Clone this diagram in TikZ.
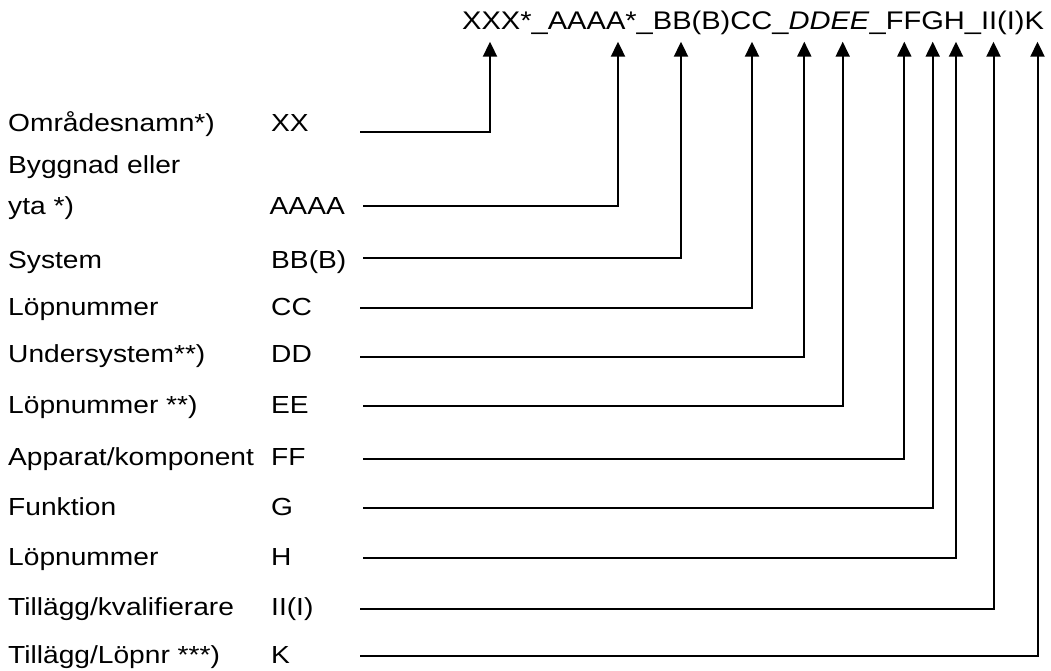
\documentclass[tikz,border=0pt]{standalone}
\usepackage{fontspec}
\setmainfont[FakeStretch=1.14]{Liberation Sans}
\usetikzlibrary{arrows.meta}
\begin{document}
\begin{tikzpicture}[x=1pt,y=-1pt,
  lbl/.style={anchor=base west, inner sep=0pt, font=\fontsize{24.7}{41}\selectfont},
  conn/.style={line width=2pt, -{Triangle[width=14pt,length=15pt]}},
]
\useasboundingbox (0,0) rectangle (1051,671);
\node[anchor=base west, inner sep=0pt, font=\fontsize{25.5}{30}\selectfont] (hdr) at (462,29.5)
  {XXX*\_AAAA*\_BB(B)CC\_\textit{DDEE}\_FFGH\_II(I)K};

% labels
\node[lbl] (l1) at (8,131.7) {Områdesnamn*)};
\node[lbl] (l2) at (8,214.5) {\begin{tabular}[b]{@{}l@{}}Byggnad eller\\yta *)\end{tabular}};
\node[lbl] (l3) at (8,268) {System};
\node[lbl] (l4) at (8,315) {Löpnummer};
\node[lbl] (l5) at (8,362) {Undersystem**)};
\node[lbl] (l6) at (8,413) {Löpnummer **)};
\node[lbl] (l7) at (8,465) {Apparat/komponent};
\node[lbl] (l8) at (8,515) {Funktion};
\node[lbl] (l9) at (8,565) {Löpnummer};
\node[lbl] (l10) at (8,615) {Tillägg/kvalifierare};
\node[lbl] (l11) at (8,663) {Tillägg/Löpnr ***)};

% codes
\node[lbl] (c1) at (271,131.7) {XX};
\node[lbl] (c2) at (269.5,214.5) {AAAA};
\node[lbl] (c3) at (271,268) {BB(B)};
\node[lbl] (c4) at (271,315) {CC};
\node[lbl] (c5) at (271,362) {DD};
\node[lbl] (c6) at (271,413) {EE};
\node[lbl] (c7) at (271,465) {FF};
\node[lbl] (c8) at (271,515) {G};
\node[lbl] (c9) at (271,565) {H};
\node[lbl] (c10) at (271,615) {II(I)};
\node[lbl] (c11) at (271,663) {K};

% connector starts and targets
\foreach \n/\ly/\sx/\tx in {1/132.3/360/490, 2/205.7/363/618, 3/258/363/681,
  4/308/360/752, 5/356.7/360/804.3, 6/406/363/842.7, 7/459/363/904.3,
  8/508/363/932.7, 9/558/363/956, 10/609/360/993.5, 11/656/360/1037.5}{
  \coordinate (s\n) at (\sx,\ly);
  \coordinate (t\n) at (\tx,41.7);
}
\foreach \n in {1,...,11}{
  \draw[conn] (s\n) -| (t\n);
}
\end{tikzpicture}
\end{document}
